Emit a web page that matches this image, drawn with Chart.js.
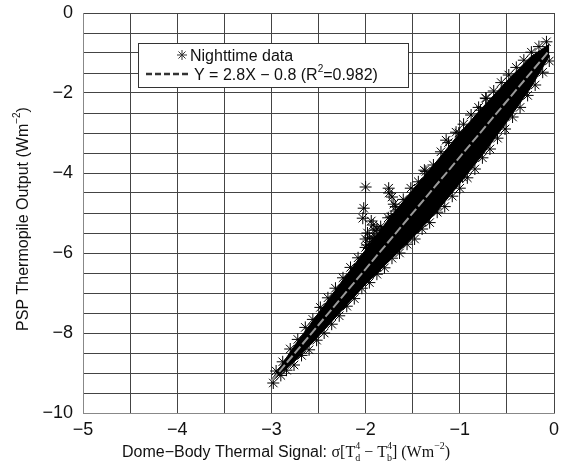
<!DOCTYPE html>
<html>
<head>
<meta charset="utf-8">
<script src="https://cdn.jsdelivr.net/npm/chart.js@4"></script>
<style>
  body { margin: 0; background: #fff; }
  #wrap { width: 561px; height: 462px; position: relative; }
</style>
</head>
<body>
<div id="wrap"><canvas id="myChart"></canvas></div>
<script>
// Dense band of nighttime points (envelope)
const bandX     = [-3.0, -2.75, -2.5, -2.25, -2.0, -1.75, -1.5, -1.25, -1.0, -0.75, -0.5, -0.25, -0.05];
const bandUpper = [-9.18, -8.3, -7.5, -6.7, -5.92, -5.14, -4.42, -3.72, -3.0, -2.34, -1.7, -1.1, -0.78];
const bandLower = [-9.22, -8.7, -8.08, -7.43, -6.78, -6.2, -5.62, -4.98, -4.26, -3.52, -2.72, -1.88, -1.08];

// Individual stars along the band edges and the outliers
const nightX = [
    -2.95, -2.88, -2.8, -2.72, -2.64, -2.56, -2.48, -2.4, -2.32, -2.24, -2.16, -2.08, -2.0, -1.92,
    -1.84, -1.76, -1.68, -1.6, -1.52, -1.44, -1.36, -1.28, -1.2, -1.12, -1.04, -0.96, -0.88, -0.8,
    -0.72, -0.64, -0.56, -0.48, -0.4, -0.32, -0.24, -0.16, -0.08,
    -2.98, -2.9, -2.84, -2.76, -2.68, -2.6, -2.52, -2.44, -2.36, -2.28, -2.2, -2.12, -2.04, -1.96,
    -1.88, -1.8, -1.72, -1.64, -1.56, -1.48, -1.4, -1.32, -1.24, -1.16, -1.08, -1.0, -0.92, -0.84,
    -0.76, -0.68, -0.6, -0.52, -0.44, -0.36, -0.28, -0.2, -0.12, -0.05,
    -2.0, -2.02, -2.03, -1.94, -1.91, -1.96, -1.93, -1.985, -1.755, -1.72, -1.7, -1.68, -1.75,
    -1.73, -1.85, -1.88, -1.376, -1.145, -1.01, -0.78, -0.725, -0.97,
    -1.98, -1.92, -2.0, -1.9, -1.87, -1.95, -1.8, -1.83
];
const nightY = [
    -8.95, -8.72, -8.4, -8.16, -7.86, -7.66, -7.36, -7.12, -6.88, -6.62, -6.36, -6.12, -5.86, -5.64,
    -5.34, -5.12, -4.84, -4.66, -4.38, -4.22, -3.96, -3.8, -3.47, -3.24, -2.98, -2.78, -2.55, -2.36,
    -2.14, -1.95, -1.74, -1.55, -1.36, -1.18, -0.98, -0.84, -0.72,
    -9.25, -9.06, -8.93, -8.8, -8.56, -8.42, -8.18, -8.0, -7.78, -7.57, -7.33, -7.14, -6.88, -6.74,
    -6.53, -6.37, -6.13, -6.0, -5.78, -5.65, -5.4, -5.24, -4.98, -4.84, -4.58, -4.38, -4.12, -3.9,
    -3.62, -3.4, -3.13, -2.9, -2.6, -2.36, -2.06, -1.8, -1.48, -1.2,
    -4.35, -4.88, -5.13, -5.2, -5.43, -5.62, -5.72, -5.8, -4.38, -4.6, -4.78, -4.95, -4.5,
    -5.1, -5.55, -5.4, -3.93, -3.18, -3.0, -2.43, -2.125, -4.1,
    -5.5, -5.3, -5.65, -5.6, -5.75, -5.85, -5.6, -5.45
];

// Linear fit Y = 2.8X - 0.8
const fitX = [-3.0, -0.05];
const fitY = [-9.2, -0.94];

const xTicks = [-5, -4, -3, -2, -1, 0];
const yTicks = [0, -2, -4, -6, -8, -10];

const SANS = '"Liberation Sans", Arial, Helvetica, sans-serif';
const SERIF = '"Liberation Serif", "Times New Roman", serif';

const toPts = (xs, ys) => xs.map((x, i) => ({ x: x, y: ys[i] }));
const minus = (v) => String(v).replace('-', '\u2212');

// Draw a sequence of text runs (with sub/superscripts) starting at x
function runsWidth(ctx, runs) {
    let w = 0;
    runs.forEach(r => {
        ctx.font = r.f;
        if (r.stack) {
            w += Math.max(ctx.measureText(r.sub).width, ctx.measureText(r.sup).width);
        } else {
            w += ctx.measureText(r.t).width;
        }
    });
    return w;
}
function drawRuns(ctx, runs, x, y) {
    runs.forEach(r => {
        ctx.font = r.f;
        if (r.stack) {
            ctx.fillText(r.sub, x, y + 4);
            ctx.fillText(r.sup, x, y - 8);
            x += Math.max(ctx.measureText(r.sub).width, ctx.measureText(r.sup).width);
        } else {
            ctx.fillText(r.t, x, y + (r.dy || 0));
            x += ctx.measureText(r.t).width;
        }
    });
}

const textPlugin = {
    id: 'textPlugin',
    afterDraw(chart) {
        const ctx = chart.ctx;
        const area = chart.chartArea;
        ctx.save();
        ctx.fillStyle = '#111';
        ctx.textBaseline = 'alphabetic';
        ctx.textAlign = 'left';

        // x axis title
        const s16 = '16px ' + SANS, r16 = '16px ' + SERIF, r10 = '10px ' + SERIF;
        const xRuns = [
            { t: 'Dome\u2212Body Thermal Signal: ', f: s16 },
            { t: '\u03c3[T', f: r16 },
            { stack: true, sub: 'd', sup: '4', f: r10 },
            { t: ' \u2212 T', f: r16 },
            { stack: true, sub: 'b', sup: '4', f: r10 },
            { t: '] (Wm', f: r16 },
            { t: '\u22122', f: r10, dy: -8 },
            { t: ')', f: r16 }
        ];
        drawRuns(ctx, xRuns, 122, 457);

        // y axis title
        const yRuns = [
            { t: 'PSP Thermopile Output (Wm', f: s16 },
            { t: '\u22122', f: '10px ' + SANS, dy: -8 },
            { t: ')', f: s16 }
        ];
        ctx.save();
        ctx.translate(28, (area.top + area.bottom) / 2 + 6);
        ctx.rotate(-Math.PI / 2);
        drawRuns(ctx, yRuns, -runsWidth(ctx, yRuns) / 2, 0);
        ctx.restore();

        // legend box
        ctx.fillStyle = '#fff';
        ctx.fillRect(138, 43, 270, 44);
        ctx.strokeStyle = '#333';
        ctx.lineWidth = 1;
        ctx.strokeRect(138.5, 43.5, 270, 44);
        ctx.fillStyle = '#111';
        Chart.helpers.drawPoint(ctx, { pointStyle: 'star', radius: 5, borderWidth: 1 }, 182, 55);
        ctx.font = s16;
        ctx.fillText('Nighttime data', 190, 61);
        ctx.setLineDash([6, 3]);
        ctx.lineWidth = 2.5;
        ctx.beginPath();
        ctx.moveTo(146, 74);
        ctx.lineTo(190, 74);
        ctx.stroke();
        ctx.setLineDash([]);
        drawRuns(ctx, [
            { t: 'Y = 2.8X \u2212 0.8 (R', f: s16 },
            { t: '2', f: '10px ' + SANS, dy: -8 },
            { t: '=0.982)', f: s16 }
        ], 194, 80);
        ctx.restore();
    }
};

const ctx = document.getElementById('myChart');
const config = {
    type: 'scatter',
    data: {
        datasets: [
            {
                label: 'Y = 2.8X - 0.8',
                data: toPts(fitX, fitY),
                showLine: true,
                borderColor: '#9a9a9a',
                borderWidth: 2,
                borderDash: [9, 3],
                pointRadius: 0,
                order: 0
            },
            {
                label: 'Nighttime data',
                data: toPts(nightX, nightY),
                pointStyle: 'star',
                pointRadius: 6,
                borderColor: '#000',
                backgroundColor: '#000',
                borderWidth: 1,
                order: 1
            },
            {
                label: 'band upper',
                data: toPts(bandX, bandUpper),
                showLine: true,
                borderColor: '#000',
                backgroundColor: '#000',
                borderWidth: 1,
                pointRadius: 0,
                fill: '+1',
                order: 2
            },
            {
                label: 'band lower',
                data: toPts(bandX, bandLower),
                showLine: true,
                borderColor: '#000',
                borderWidth: 1,
                pointRadius: 0,
                order: 3
            }
        ]
    },
    options: {
        responsive: true,
        maintainAspectRatio: false,
        animation: false,
        layout: { padding: { top: 13, right: 2, left: 0, bottom: 0 } },
        plugins: {
            legend: { display: false },
            tooltip: { enabled: false }
        },
        scales: {
            x: {
                type: 'linear',
                min: -5,
                max: 0,
                afterFit: (s) => { s.height = 49; s.paddingLeft = 0; s.paddingRight = 0; },
                border: { color: '#888', width: 1 },
                grid: { color: '#444', lineWidth: 1, drawTicks: false },
                ticks: {
                    stepSize: 0.5,
                    padding: 6,
                    maxRotation: 0,
                    autoSkip: false,
                    color: '#111',
                    font: { family: SANS, size: 18 },
                    callback: (v) => xTicks.includes(v) ? minus(v) : ''
                }
            },
            y: {
                type: 'linear',
                min: -10,
                max: 0,
                afterFit: (s) => { s.width = 83; s.paddingTop = 0; s.paddingBottom = 0; },
                border: { color: '#888', width: 1 },
                grid: { color: '#444', lineWidth: 1, drawTicks: false },
                ticks: {
                    stepSize: 0.5,
                    padding: 10,
                    autoSkip: false,
                    color: '#111',
                    font: { family: SANS, size: 18 },
                    callback: (v) => yTicks.includes(v) ? minus(v) : ''
                }
            }
        }
    },
    plugins: [textPlugin]
};
const chart = new Chart(ctx, config);
</script>
</body>
</html>
